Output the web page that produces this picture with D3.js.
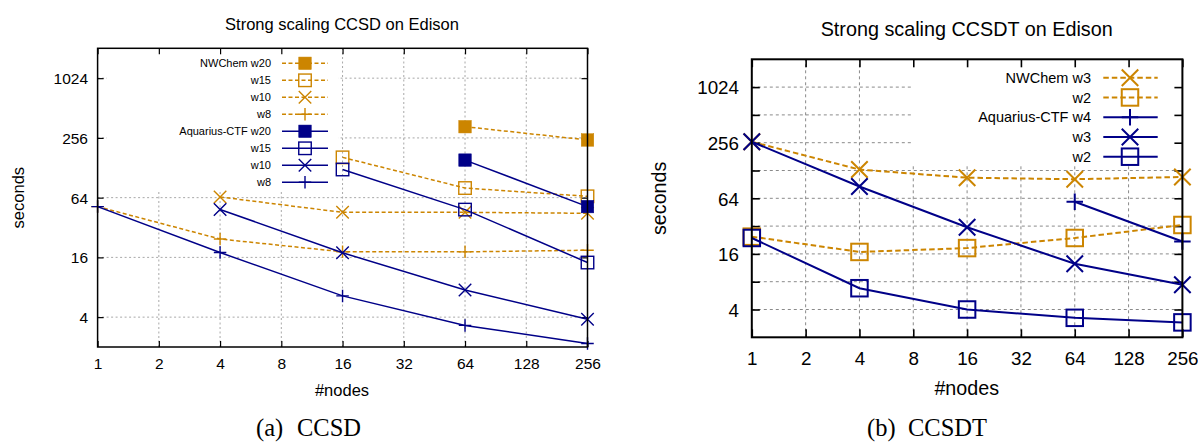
<!DOCTYPE html>
<html>
<head>
<meta charset="utf-8">
<script src="https://cdn.jsdelivr.net/npm/d3@7/dist/d3.min.js"></script>
<style>
  html, body { margin: 0; padding: 0; background: #ffffff; }
  svg { display: block; }
</style>
</head>
<body>
<svg id="chart" width="1198" height="443"></svg>
<script>
// ---------------- DATA ----------------
const nodeTicks = [1, 2, 4, 8, 16, 32, 64, 128, 256];
const measuredNodes = [1, 4, 16, 64, 256];
const secondsLabelTicks = [4, 16, 64, 256, 1024];
const ccsdGridY = [4, 16, 64, 256, 1024];
const ccsdtGridY = [4, 8, 16, 32, 64, 128, 256, 512, 1024];

// CCSD (left)  values at measuredNodes, null = no measurement
const ccsdNWChemW20 = [null, null, null, 332, 244];
const ccsdNWChemW15 = [null, null, 163, 80, 66];
const ccsdNWChemW10 = [null, 65, 45.5, 45.5, 44.5];
const ccsdNWChemW8  = [52, 24.5, 18.2, 18.2, 18.9];
const ccsdAquariusW20 = [null, null, null, 153, 52];
const ccsdAquariusW15 = [null, null, 123, 48.5, 14.2];
const ccsdAquariusW10 = [null, 48.7, 17.8, 7.5, 3.8];
const ccsdAquariusW8  = [52, 17.9, 6.55, 3.3, 2.17];
const ccsdLabels = ["NWChem w20", "w15", "w10", "w8", "Aquarius-CTF w20", "w15", "w10", "w8"];

// CCSDT (right)
const ccsdtNWChemW3 = [262, 131, 107, 103, 109];
const ccsdtNWChemW2 = [24.6, 16.8, 18.5, 23.8, 32.9];
const ccsdtAquariusW4 = [null, null, null, 58.8, 21.8];
const ccsdtAquariusW3 = [262, 86, 31.1, 12.5, 7.4];
const ccsdtAquariusW2 = [23.8, 6.8, 4, 3.25, 2.9];
const ccsdtLabels = ["NWChem w3", "w2", "Aquarius-CTF w4", "w3", "w2"];

const titles = ["Strong scaling CCSD on Edison", "Strong scaling CCSDT on Edison"];
const xTitle = "#nodes";
const yTitle = "seconds";
const captionTags = ["(a)", "(b)"];
const captionNames = ["CCSD", "CCSDT"];

// ---------------- STYLE ----------------
const ORANGE = "#cc8500";
const BLUE = "#000088";
const svg = d3.select("#chart");
const FONT = "'Liberation Sans', Arial, Helvetica, sans-serif";
const SERIF = "'Liberation Serif', 'Times New Roman', serif";

function drawMarker(g, type, cx, cy, s, color, sw) {
  const h = s / 2;
  if (type === "sqf") {
    g.append("rect").attr("x", cx - h).attr("y", cy - h).attr("width", s).attr("height", s)
      .attr("fill", color).attr("stroke", color).attr("stroke-width", 0.5);
  } else if (type === "sq") {
    g.append("rect").attr("x", cx - h).attr("y", cy - h).attr("width", s).attr("height", s)
      .attr("fill", "none").attr("stroke", color).attr("stroke-width", sw);
  } else if (type === "x") {
    g.append("path").attr("d", `M${cx-h},${cy-h}L${cx+h},${cy+h}M${cx-h},${cy+h}L${cx+h},${cy-h}`)
      .attr("fill", "none").attr("stroke", color).attr("stroke-width", sw);
  } else if (type === "plus") {
    g.append("path").attr("d", `M${cx-h},${cy}L${cx+h},${cy}M${cx},${cy-h}L${cx},${cy+h}`)
      .attr("fill", "none").attr("stroke", color).attr("stroke-width", sw);
  }
}

function drawPanel(cfg) {
  const g = svg.append("g");
  const x = d3.scaleLog().base(2).domain([1, 256]).range([cfg.left, cfg.right]);
  const y = d3.scaleLog().base(2).domain([2, 2048]).range([cfg.bottom, cfg.top]);

  // grid
  const grid = g.append("g").attr("stroke", cfg.gridColor).attr("stroke-width", 1)
    .attr("stroke-dasharray", cfg.gridDash).attr("fill", "none");
  nodeTicks.slice(1, -1).forEach(t => {
    grid.append("line").attr("x1", x(t)).attr("x2", x(t)).attr("y1", cfg.bottom).attr("y2", cfg.top);
  });
  cfg.gridY.forEach(t => {
    grid.append("line").attr("x1", cfg.left).attr("x2", cfg.right).attr("y1", y(t)).attr("y2", y(t));
  });

  // opaque legend box
  g.append("rect").attr("x", cfg.legendBox[0]).attr("y", cfg.legendBox[1])
    .attr("width", cfg.legendBox[2] - cfg.legendBox[0]).attr("height", cfg.legendBox[3] - cfg.legendBox[1])
    .attr("fill", "#ffffff");

  // axes (inward ticks, mirrored)
  const fmt = d3.format("d");
  const axB = g.append("g").attr("transform", `translate(0,${cfg.bottom})`)
    .call(d3.axisBottom(x).tickValues(nodeTicks).tickFormat(fmt).tickSizeInner(-cfg.tick).tickSizeOuter(0));
  axB.selectAll("text").attr("y", cfg.xLabelBase).attr("dy", 0)
    .style("font-size", cfg.tickFont + "px");
  const axT = g.append("g").attr("transform", `translate(0,${cfg.top})`)
    .call(d3.axisTop(x).tickValues(nodeTicks).tickSizeInner(-cfg.tick).tickSizeOuter(0));
  axT.selectAll("text").remove();
  const axL = g.append("g").attr("transform", `translate(${cfg.left},0)`)
    .call(d3.axisLeft(y).tickValues(cfg.gridY).tickFormat(d => secondsLabelTicks.includes(d) ? fmt(d) : "")
      .tickSizeInner(-cfg.tick).tickSizeOuter(0).tickPadding(cfg.yPad));
  axL.selectAll("text").attr("dy", "0.36em").style("font-size", cfg.tickFont + "px");
  const axR = g.append("g").attr("transform", `translate(${cfg.right},0)`)
    .call(d3.axisRight(y).tickValues(cfg.gridY).tickSizeInner(-cfg.tick).tickSizeOuter(0));
  axR.selectAll("text").remove();
  [axB, axT, axL, axR].forEach(a => {
    a.select(".domain").remove();
    a.selectAll("line").attr("stroke", "#000").attr("stroke-width", cfg.borderW * 0.8);
    a.selectAll("text").attr("fill", "#000").style("font-family", FONT);
  });

  // series
  const line = d3.line().x(d => x(d[0])).y(d => y(d[1]));
  cfg.series.forEach(s => {
    const pts = measuredNodes.map((n, i) => [n, s.values[i]]).filter(d => d[1] != null);
    g.append("path").attr("d", line(pts)).attr("fill", "none")
      .attr("stroke", s.color).attr("stroke-width", cfg.lineW)
      .attr("stroke-dasharray", s.dashed ? cfg.dash : null);
    const mg = g.append("g");
    pts.forEach(p => drawMarker(mg, s.marker, x(p[0]), y(p[1]), cfg.markSize, s.color, cfg.markW));
  });

  // legend
  cfg.series.forEach((s, i) => {
    const ly = cfg.legendY0 + i * cfg.legendStep;
    g.append("text").attr("x", cfg.legendTextX).attr("y", ly).attr("dy", "0.36em")
      .attr("text-anchor", "end").style("font-family", FONT).style("font-size", cfg.legendFont + "px")
      .attr("fill", "#000").text(s.label);
    g.append("line").attr("x1", cfg.legendLine[0]).attr("x2", cfg.legendLine[1]).attr("y1", ly).attr("y2", ly)
      .attr("stroke", s.color).attr("stroke-width", cfg.lineW).attr("stroke-dasharray", s.dashed ? cfg.dash : null);
    drawMarker(g, s.marker, cfg.legendMark, ly, cfg.markSize, s.color, cfg.markW);
  });

  // border
  g.append("rect").attr("x", cfg.left).attr("y", cfg.top)
    .attr("width", cfg.right - cfg.left).attr("height", cfg.bottom - cfg.top)
    .attr("fill", "none").attr("stroke", "#000").attr("stroke-width", cfg.borderW);

  // titles
  g.append("text").attr("x", cfg.titleX).attr("y", cfg.titleY).attr("text-anchor", "middle")
    .style("font-family", FONT).style("font-size", cfg.titleFont + "px").text(cfg.title);
  g.append("text").attr("x", cfg.titleX).attr("y", cfg.xTitleY).attr("text-anchor", "middle")
    .style("font-family", FONT).style("font-size", cfg.axisFont + "px").text(xTitle);
  g.append("text").attr("transform", `translate(${cfg.yTitleX},${(cfg.top + cfg.bottom) / 2}) rotate(-90)`)
    .attr("text-anchor", "middle")
    .style("font-family", FONT).style("font-size", cfg.axisFont + "px").text(yTitle);

  // caption
  g.append("text").attr("x", cfg.capTagX).attr("y", 436).style("font-family", SERIF)
    .style("font-size", "24.5px").text(cfg.capTag);
  g.append("text").attr("x", cfg.capNameX).attr("y", 436).style("font-family", SERIF)
    .style("font-size", "24.5px").text(cfg.capName);
}

drawPanel({
  left: 97.6, right: 587.5, top: 48.3, bottom: 347,
  gridY: ccsdGridY, gridColor: "#a8a8a8", gridDash: "2,2.5",
  tick: 6, borderW: 1.5, tickFont: 15.5, xLabelBase: 22.3, yPad: 9.6,
  lineW: 1.5, dash: "4,2.5", markSize: 12.5, markW: 1.4,
  legendBox: [107, 49, 338, 190],
  legendY0: 63.3, legendStep: 17, legendTextX: 271, legendLine: [282, 328], legendMark: 305, legendFont: 11,
  title: titles[0], titleX: 342, titleY: 29.5, titleFont: 16.5,
  xTitleY: 396, axisFont: 16.5, yTitleX: 23.5,
  capTag: captionTags[0], capName: captionNames[0], capTagX: 256, capNameX: 297,
  series: [
    {label: ccsdLabels[0], values: ccsdNWChemW20, color: ORANGE, dashed: true, marker: "sqf"},
    {label: ccsdLabels[1], values: ccsdNWChemW15, color: ORANGE, dashed: true, marker: "sq"},
    {label: ccsdLabels[2], values: ccsdNWChemW10, color: ORANGE, dashed: true, marker: "x"},
    {label: ccsdLabels[3], values: ccsdNWChemW8, color: ORANGE, dashed: true, marker: "plus"},
    {label: ccsdLabels[4], values: ccsdAquariusW20, color: BLUE, dashed: false, marker: "sqf"},
    {label: ccsdLabels[5], values: ccsdAquariusW15, color: BLUE, dashed: false, marker: "sq"},
    {label: ccsdLabels[6], values: ccsdAquariusW10, color: BLUE, dashed: false, marker: "x"},
    {label: ccsdLabels[7], values: ccsdAquariusW8, color: BLUE, dashed: false, marker: "plus"}
  ]
});

drawPanel({
  left: 751.8, right: 1182.4, top: 59.3, bottom: 337.3,
  gridY: ccsdtGridY, gridColor: "#8a8a8a", gridDash: "3,3",
  tick: 8, borderW: 2, tickFont: 18.8, xLabelBase: 27.7, yPad: 12.8,
  lineW: 2, dash: "5.5,3", markSize: 16.5, markW: 2,
  legendBox: [911, 60, 1181, 166],
  legendY0: 77.7, legendStep: 19.75, legendTextX: 1091, legendLine: [1103.3, 1157.7], legendMark: 1130, legendFont: 14.5,
  title: titles[1], titleX: 966.7, titleY: 36, titleFont: 19.8,
  xTitleY: 395, axisFont: 19.7, yTitleX: 666,
  capTag: captionTags[1], capName: captionNames[1], capTagX: 867, capNameX: 908,
  series: [
    {label: ccsdtLabels[0], values: ccsdtNWChemW3, color: ORANGE, dashed: true, marker: "x"},
    {label: ccsdtLabels[1], values: ccsdtNWChemW2, color: ORANGE, dashed: true, marker: "sq"},
    {label: ccsdtLabels[2], values: ccsdtAquariusW4, color: BLUE, dashed: false, marker: "plus"},
    {label: ccsdtLabels[3], values: ccsdtAquariusW3, color: BLUE, dashed: false, marker: "x"},
    {label: ccsdtLabels[4], values: ccsdtAquariusW2, color: BLUE, dashed: false, marker: "sq"}
  ]
});
</script>
</body>
</html>
